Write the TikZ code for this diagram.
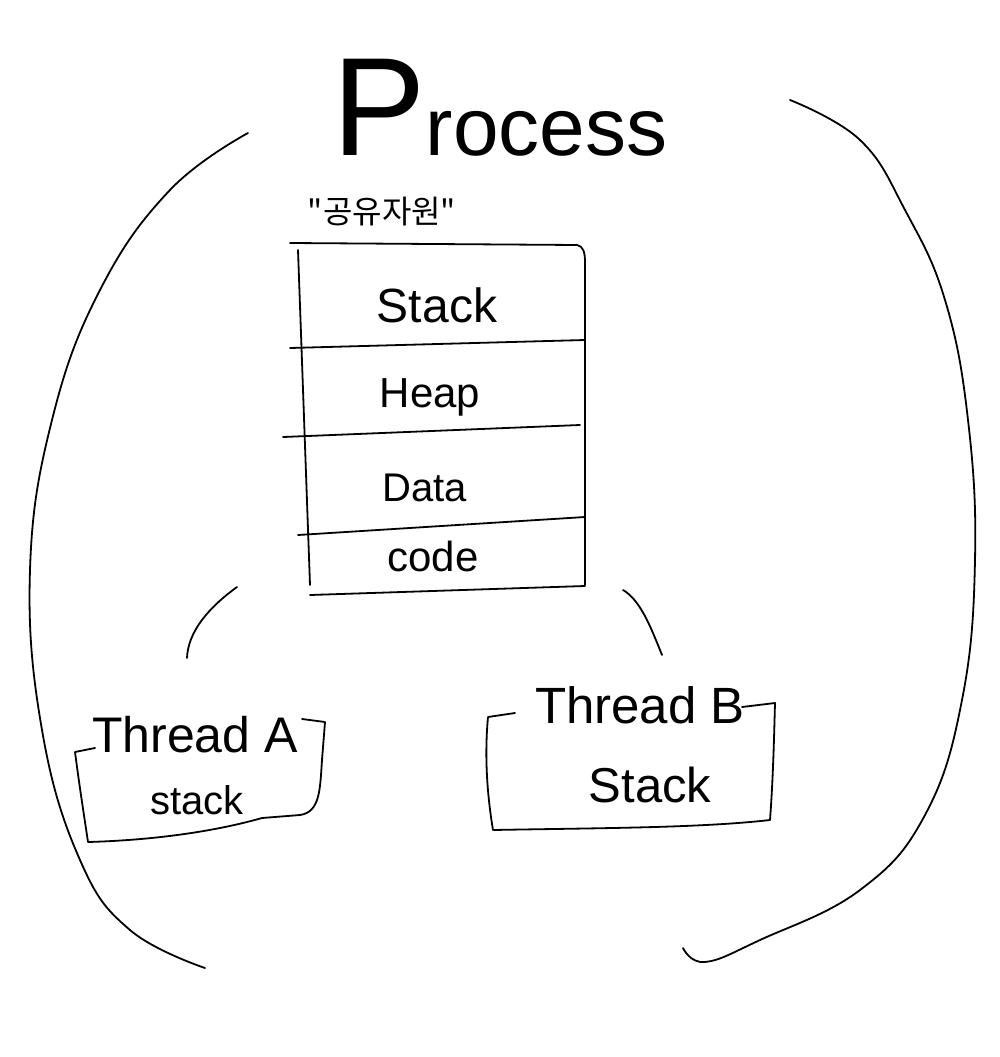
\documentclass[tikz,border=0pt]{standalone}
\usepackage{fontspec}
\setmainfont{Liberation Sans}
\newfontfamily\cjk{Noto Sans CJK KR}
\begin{document}
\begin{tikzpicture}[x=1pt,y=-1pt,
  ink/.style={line width=1.8pt,line cap=round,line join=round},
  lbl/.style={inner sep=0pt,anchor=center},
  fs/.style={font=\fontsize{#1}{#1}\selectfont}]
\useasboundingbox[fill=white] (0,0) rectangle (1000,1057);
% title
\node[lbl] (title) at (500,108) {\fontsize{140}{140}\selectfont P\fontsize{82}{82}\selectfont rocess};
% process outline arcs
\draw[ink] plot[smooth,tension=0.7] coordinates {(248,133) (170,190) (100,290) (52,420) (30,570) (42,730) (80,860) (130,930) (205,968)};
\draw[ink] plot[smooth,tension=0.7] coordinates {(790,100) (860,140) (905,210) (945,300) (968,420) (975,560) (962,700) (925,815) (860,890) (760,940) (705,962) (683,948)};
% shared resources label
\node[lbl] (shared) at (382,212) {\cjk\fontsize{32}{32}\selectfont "공유자원"};
% memory box
\draw[ink] (290,243) -- (577,245) .. controls (583,246) and (585,252) .. (585,262) -- (585,585);
\draw[ink] (298,250) -- (310,585);
\draw[ink] (310,595) -- (585,586);
\draw[ink] (290,348) -- (585,340);
\draw[ink] (283,437) -- (580,425);
\draw[ink] (298,535) -- (585,517);
\node[lbl,fs=48] (stack) at (437,305) {Stack};
\node[lbl,fs=42] (heap) at (430,397) {Heap};
\node[lbl,fs=40] (data) at (425,488) {Data};
\node[lbl,fs=42] (code) at (433,556) {code};
% connectors
\coordinate (cA1) at (237,587);
\coordinate (cA2) at (187,658);
\coordinate (cB1) at (623,590);
\coordinate (cB2) at (662,655);
\draw[ink] (cA1) .. controls (208,608) and (188,632) .. (cA2);
\draw[ink] (cB1) .. controls (640,600) and (650,625) .. (cB2);
% thread A
\node[lbl,fs=50] (threadA) at (195,735) {Thread A};
\node[lbl,fs=40] (stackA) at (197,800) {stack};
\draw[ink] (95,748) -- (75,752) .. controls (80,790) and (84,815) .. (88,842) .. controls (160,840) and (220,830) .. (262,818) -- (300,815) .. controls (320,812) and (320,790) .. (322,760) -- (325,722) -- (302,719);
% thread B
\node[lbl,fs=51] (threadB) at (640,705) {Thread B};
\node[lbl,fs=49] (stackB) at (650,785) {Stack};
\draw[ink] (515,713) -- (488,717) .. controls (484,760) and (488,800) .. (493,830) .. controls (600,828) and (700,828) .. (770,820) .. controls (773,780) and (774,740) .. (775,703) -- (742,707);
\end{tikzpicture}
\end{document}
